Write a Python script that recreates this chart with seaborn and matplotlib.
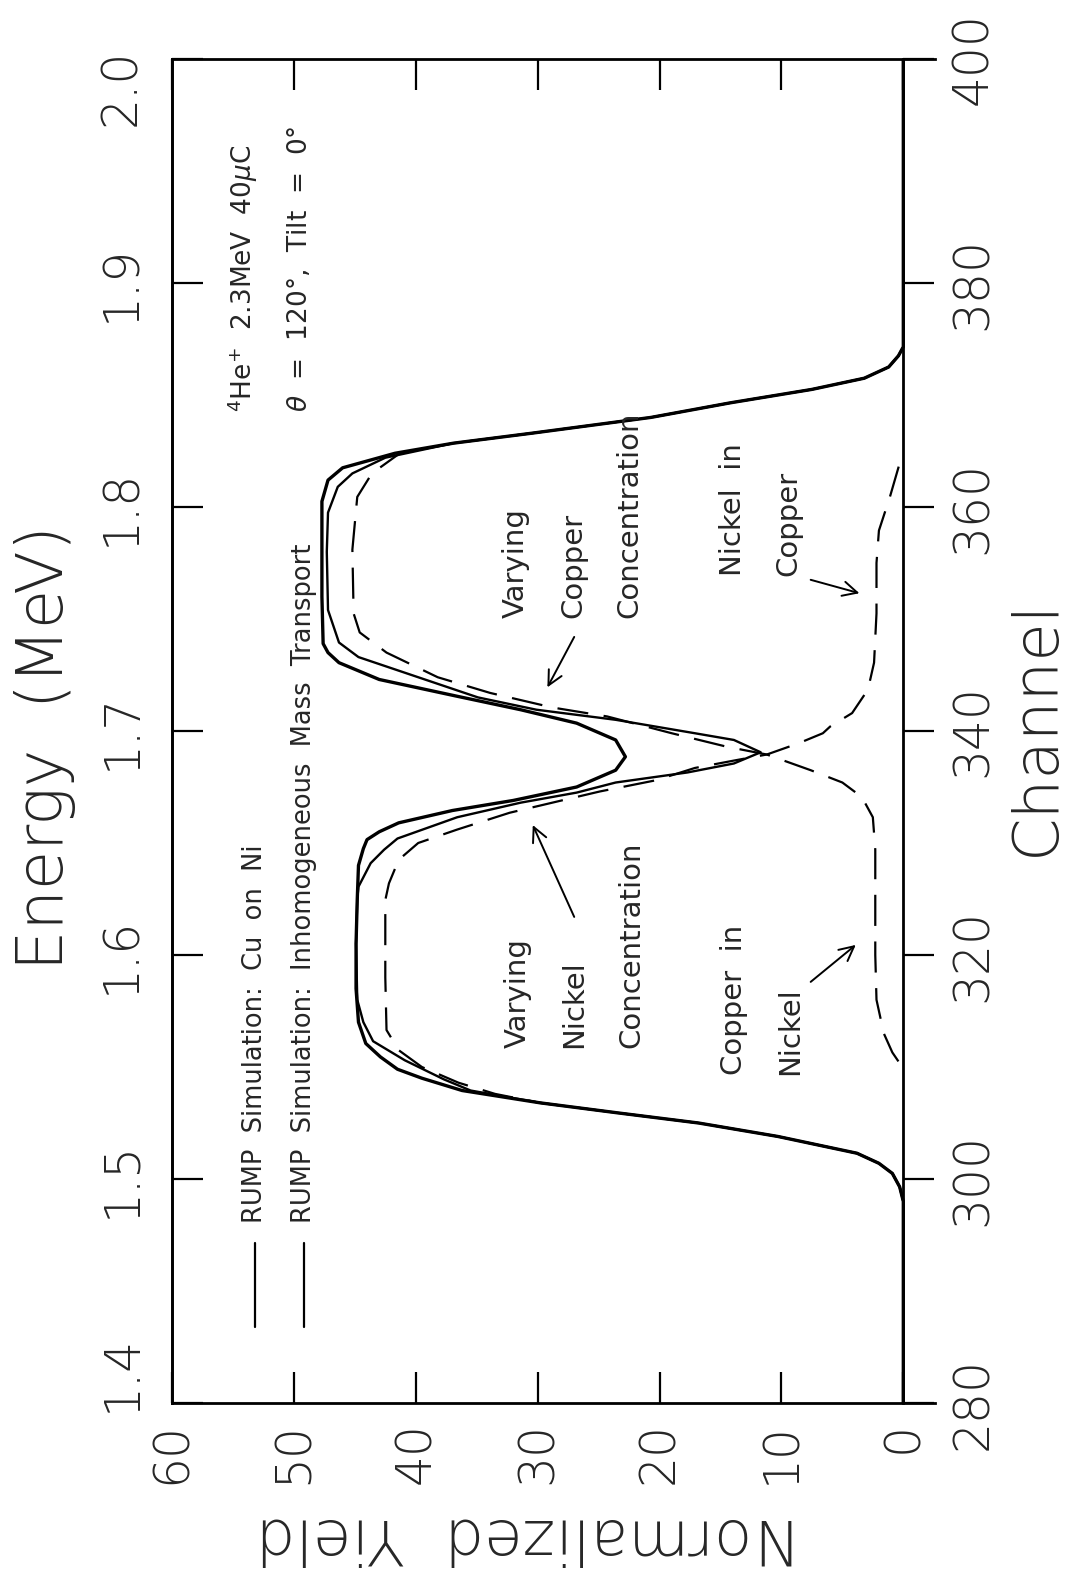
import matplotlib
matplotlib.use('Agg')
import matplotlib.pyplot as plt
import matplotlib.transforms as mtransforms
import pandas as pd
import seaborn as sns

# values (channel vs normalized yield)
channel_cu_on_ni = [280, 298.0, 299.3, 300.5, 301.4, 302.3, 303.8, 305.0, 305.9, 306.8,
                    307.9, 309.0, 309.8, 310.9, 312.1, 314.0, 317.0, 321.0, 325.0, 328.0,
                    329.5, 330.3, 331.0, 331.8, 332.9, 333.8, 335.0, 336.5, 337.7, 339.2,
                    340.7, 341.9, 343.1, 344.6, 346.1, 347.0, 347.8, 352.0, 357.0, 360.5,
                    362.4, 363.5, 364.8, 365.7, 366.6, 368.0, 369.3, 370.5, 371.5, 372.5,
                    373.5, 374.3, 400]
yield_cu_on_ni = [0, 0, 0.3, 0.9, 2.0, 3.8, 10.3, 16.8, 23.4, 29.8,
                  36.2, 39.5, 41.5, 42.9, 44.1, 44.7, 44.9, 44.9, 44.8, 44.7,
                  44.3, 44.0, 43.0, 41.4, 37.0, 32.0, 26.8, 23.6, 22.8, 23.6,
                  26.8, 31.4, 36.6, 43.0, 46.3, 47.2, 47.6, 47.7, 47.7, 47.7,
                  47.2, 46.0, 41.7, 36.9, 30.4, 20.7, 14.2, 7.5, 3.2, 1.2,
                  0.4, 0, 0]

channel_transport = [280, 298.0, 299.3, 300.5, 301.4, 302.3, 303.8, 305.0, 305.9, 306.8,
                     307.9, 308.9, 310.6, 312.3, 314.0, 316.0, 321.0, 325.0, 326.1, 328.2,
                     329.4, 330.4, 332.3, 333.6, 334.5, 335.4, 336.3, 337.1, 338.1, 339.2,
                     339.8, 341.0, 341.9, 343.0, 344.8, 346.6, 347.9, 350.8, 356.0, 359.5,
                     361.8, 363.0, 364.4, 365.7, 366.6, 368.0, 369.3, 370.5, 371.5, 372.5,
                     373.5, 374.3, 400]
yield_transport = [0, 0, 0.3, 0.9, 2.0, 3.8, 10.3, 16.8, 23.4, 29.8,
                   35.5, 37.7, 40.9, 43.5, 44.3, 44.8, 44.9, 44.8, 44.7, 43.7,
                   42.6, 41.5, 36.6, 31.4, 26.8, 23.6, 17.7, 13.9, 11.7, 13.9,
                   17.1, 23.6, 30.1, 34.9, 39.8, 44.7, 46.3, 47.2, 47.3, 47.2,
                   46.4, 45.2, 42.5, 36.9, 30.4, 20.7, 14.2, 7.5, 3.2, 1.2,
                   0.4, 0, 0]

channel_copper = [310.5, 311.3, 313.0, 316.0, 320.0, 326.4, 329.4, 332.3, 334.1, 335.4,
                  336.5, 337.9, 338.6, 339.8, 341.3, 342.1, 343.4, 344.8, 347.0, 348.8,
                  350.5, 356.2, 360.9, 363.0, 364.8, 365.7, 366.6, 368.0, 369.3, 370.5,
                  371.5, 372.5, 373.5, 374.3]
yield_copper = [0.4, 0.9, 1.6, 2.2, 2.3, 2.3, 2.3, 2.5, 3.4, 5.0,
                7.6, 11.2, 14.5, 19.0, 24.3, 28.8, 33.9, 38.2, 42.4, 44.6,
                45.1, 45.2, 44.8, 43.6, 41.3, 36.9, 30.4, 20.7, 14.2, 7.5,
                3.2, 1.2, 0.4, 0]

channel_nickel = [298.0, 299.3, 300.5, 301.4, 302.3, 303.8, 305.0, 305.9, 306.8, 307.6,
                  308.6, 310.0, 311.5, 313.3, 318.0, 324.9, 326.4, 328.5, 330.0, 331.2,
                  332.7, 333.6, 334.6, 335.6, 336.7, 337.4, 337.9, 338.9, 339.8, 340.4,
                  341.6, 343.7, 346.1, 350.5, 355.0, 357.9, 360.9, 363.9]
yield_nickel = [0, 0.3, 0.9, 2.0, 3.8, 10.3, 16.8, 23.4, 29.8, 33.5,
                36.5, 39.5, 41.4, 42.4, 42.5, 42.5, 42.2, 41.4, 39.8, 36.6,
                32.3, 28.8, 24.9, 20.3, 17.1, 13.7, 11.2, 8.6, 6.6, 6.0,
                4.2, 2.9, 2.4, 2.2, 2.2, 2.0, 1.1, 0.3]

yield_ticks = [0, 10, 20, 30, 40, 50, 60]
channel_ticks = [280, 300, 320, 340, 360, 380, 400]
energy_ticks = [1.4, 1.5, 1.6, 1.7, 1.8, 1.9, 2.0]

legend_labels = ['RUMP  Simulation:  Cu  on  Ni',
                 'RUMP  Simulation:  Inhomogeneous  Mass  Transport']

sns.set_theme(style='white')
plt.rcParams['font.family'] = ['DejaVu Sans']

fig = plt.figure(figsize=(10.73, 15.80), dpi=100)
ax = fig.add_axes([172 / 1073, 177 / 1580, (935 - 172) / 1073, 1344 / 1580])

# the page is turned: yield runs right-to-left, channel runs upward
df_a = pd.DataFrame({'Yield': yield_cu_on_ni, 'Channel': channel_cu_on_ni})
df_b = pd.DataFrame({'Yield': yield_transport, 'Channel': channel_transport})
df_cu = pd.DataFrame({'Yield': yield_copper, 'Channel': channel_copper})
df_ni = pd.DataFrame({'Yield': yield_nickel, 'Channel': channel_nickel})

sns.lineplot(data=df_a, x='Yield', y='Channel', orient='y', estimator=None,
             color='black', lw=2.4, ax=ax)
sns.lineplot(data=df_b, x='Yield', y='Channel', orient='y', estimator=None,
             color='black', lw=1.7, ax=ax)
for d in (df_cu, df_ni):
    sns.lineplot(data=d, x='Yield', y='Channel', orient='y', estimator=None,
                 color='black', lw=1.6, ax=ax)
    ax.lines[-1].set_dashes([14, 7])

ax.set_xlim(60, -2.6)
ax.set_ylim(280, 400)
ax.set_xlabel('')
ax.set_ylabel('')

for s in ['top', 'bottom', 'left', 'right']:
    ax.spines[s].set_linewidth(2.0)
    ax.spines[s].set_color('black')
ax.spines['right'].set_position(('data', 0))

# yield axis (bottom), ticks inward on both long sides
ax.set_xticks(yield_ticks)
ax.set_xticklabels([str(v) for v in yield_ticks])
ax.tick_params(axis='x', which='major', direction='in', top=True, bottom=True,
               length=22, width=1.6, labelsize=35, labelrotation=90, pad=14,
               color='black')

# channel axis (right), ticks outward
ax.yaxis.tick_right()
ax.set_yticks(channel_ticks)
ax.set_yticklabels([str(v) for v in channel_ticks])
ax.tick_params(axis='y', which='major', direction='out', left=False, right=True,
               length=22, width=1.6, labelsize=35, labelrotation=90, pad=11,
               color='black')
for t in ax.get_yticklabels():
    t.set_va('center')

# energy axis (left)
sec = ax.secondary_yaxis('left', functions=(lambda c: 1.4 + (c - 280) * 0.005,
                                            lambda e: 280 + (e - 1.4) / 0.005))
sec.set_yticks(energy_ticks, labels=['%.1f' % e for e in energy_ticks])
sec.tick_params(direction='in', length=22, width=1.6, labelsize=35,
                labelrotation=90, pad=19, color='black')
sec.spines['left'].set_linewidth(2.0)
for t in sec.get_yticklabels():
    t.set_va('center')

for t in ax.get_xticklabels() + ax.get_yticklabels() + sec.get_yticklabels():
    t.set_fontweight('light')

# end labels of the energy axis sit a little inside the corners
fig.canvas.draw()
elabels = sec.get_yticklabels()
elabels[0].set_transform(elabels[0].get_transform()
                         + mtransforms.ScaledTranslation(0, 0.30, fig.dpi_scale_trans))
elabels[-1].set_transform(elabels[-1].get_transform()
                          + mtransforms.ScaledTranslation(0, -0.28, fig.dpi_scale_trans))

# axis titles
fig.text(45 / 1073, 1 - 748 / 1580, 'Energy  (MeV)', rotation=90, fontsize=46,
         ha='center', va='center', fontweight='light')
fig.text(1037 / 1073, 1 - 727 / 1580, 'Channel', rotation=90, fontsize=45,
         ha='center', va='center', fontweight='light')
fig.text(527 / 1073, 1 - 1537 / 1580, 'Normalized  Yield', rotation=180, fontsize=45,
         ha='center', va='center', fontweight='light')

# legend drawn by hand, turned with the page
for yv, lab in zip([53.2, 49.2], legend_labels):
    ax.plot([yv, yv], [286.8, 294.3], color='black', lw=1.6)
    ax.text(yv, 296.1, lab, rotation=90, rotation_mode='anchor', ha='left',
            va='center', fontsize=18.5)

# beam conditions
ax.text(54.2, 368.5, r'$^{4}$He$^{+}$  2.3MeV  40$\mu$C', rotation=90,
        rotation_mode='anchor', ha='left', va='center', fontsize=19)
ax.text(49.5, 368.5, r'$\theta$  =  120°,  Tilt  =  0°', rotation=90,
        rotation_mode='anchor', ha='left', va='center', fontsize=19)

# annotations
notes = [
    (31.8, 350.1, 'Varying'), (27.1, 350.1, 'Copper'), (22.5, 350.1, 'Concentration'),
    (31.6, 311.7, 'Varying'), (27.0, 311.7, 'Nickel'), (22.3, 311.7, 'Concentration'),
    (13.9, 309.3, 'Copper  in'), (9.3, 309.3, 'Nickel'),
    (14.0, 353.8, 'Nickel  in'), (9.4, 353.8, 'Copper'),
]
for yv, cv, txt in notes:
    ax.text(yv, cv, txt, rotation=90, rotation_mode='anchor', ha='left',
            va='center', fontsize=21)

arrows = [
    ((27.0, 348.4), (29.2, 343.9)),
    ((27.0, 323.4), (30.4, 331.6)),
    ((7.6, 317.6), (3.9, 320.9)),
    ((7.6, 353.5), (3.6, 352.3)),
]
for start, end in arrows:
    ax.annotate('', xy=end, xytext=start,
                arrowprops=dict(arrowstyle='->', color='black', lw=1.4,
                                mutation_scale=26, shrinkA=0, shrinkB=0))

fig.savefig('out.png', dpi=100, facecolor='white')
